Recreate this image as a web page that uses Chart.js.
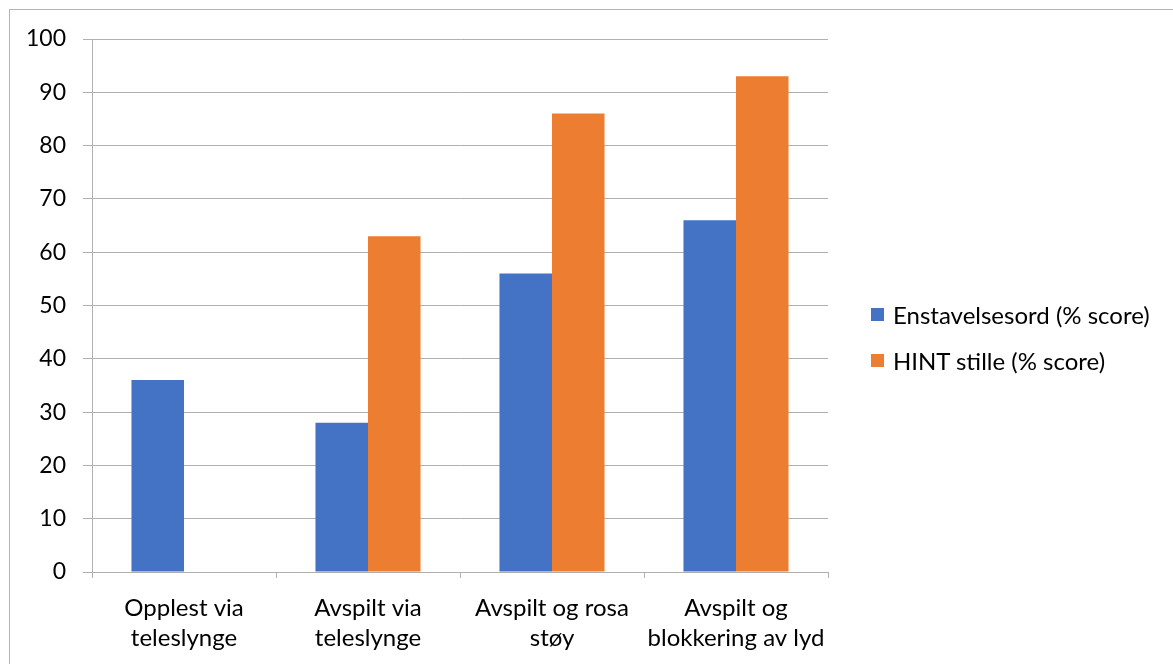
<!DOCTYPE html>
<html>
<head>
<meta charset="utf-8">
<script src="https://cdn.jsdelivr.net/npm/chart.js@4.4.1/dist/chart.umd.min.js"></script>
<style>
  html, body { margin: 0; padding: 0; background: #fff; }
  #wrap { position: relative; width: 1173px; height: 664px; overflow: hidden; }
  #frame { position: absolute; left: 9px; top: 9px; width: 1200px; height: 700px;
           border-left: 1px solid #b4b4b4; border-top: 1px solid #b4b4b4; }
  canvas { position: absolute; left: 0; top: 0; }
  #legend { position: absolute; left: 871px; top: 298px; font-family: Lato, "Open Sans", sans-serif;
            font-size: 24px; color: #000; }
  .item { display: flex; align-items: center; height: 32px; margin-bottom: 14px; white-space: nowrap; }
  .sw { width: 13px; height: 13px; margin-right: 9px; flex: none; }
</style>
</head>
<body>
<div id="wrap">
  <div id="frame"></div>
  <canvas id="c" width="1173" height="664"></canvas>
  <div id="legend"></div>
</div>
<script>
const categories = [
  ['Opplest via', 'teleslynge'],
  ['Avspilt via', 'teleslynge'],
  ['Avspilt og rosa', 'støy'],
  ['Avspilt og', 'blokkering av lyd']
];
const enstavelsesord = [36, 28, 56, 66];
const hintStille = [null, 63, 86, 93];
const seriesNames = ['Enstavelsesord (% score)', 'HINT stille (% score)'];
const seriesColors = ['#4472C4', '#ED7D31'];

const fontFamily = 'Lato, "Open Sans", sans-serif';
const gridColor = '#b0b0b0';

const chart = new Chart(document.getElementById('c'), {
  type: 'bar',
  data: {
    labels: categories,
    datasets: [
      { label: seriesNames[0], data: enstavelsesord, backgroundColor: seriesColors[0] },
      { label: seriesNames[1], data: hintStille, backgroundColor: seriesColors[1] }
    ]
  },
  options: {
    responsive: false,
    animation: false,
    categoryPercentage: 0.571,
    barPercentage: 1.0,
    layout: { padding: { left: 0, top: 39, right: 345, bottom: 0 } },
    plugins: { legend: { display: false }, tooltip: { enabled: false } },
    scales: {
      x: {
        grid: { drawOnChartArea: false, drawTicks: true, tickLength: 6, color: gridColor, offset: true },
        border: { display: true, color: gridColor },
        ticks: { color: '#000', padding: 15, maxRotation: 0, autoSkip: false,
                 font: { family: fontFamily, size: 24, lineHeight: 1.25 } },
        afterFit: (s) => { s.height = 92; }
      },
      y: {
        min: 0, max: 100,
        ticks: { stepSize: 10, color: '#000', padding: 17, font: { family: fontFamily, size: 23 } },
        grid: { color: gridColor, tickLength: 9, drawTicks: true },
        border: { display: true, color: gridColor },
        afterFit: (s) => { s.width = 92; }
      }
    }
  }
});

// legend entries beside the plot
const legend = document.getElementById('legend');
seriesNames.forEach((name, i) => {
  const row = document.createElement('div');
  row.className = 'item';
  const sw = document.createElement('span');
  sw.className = 'sw';
  sw.style.background = seriesColors[i];
  const txt = document.createElement('span');
  txt.textContent = name;
  row.appendChild(sw);
  row.appendChild(txt);
  legend.appendChild(row);
});
</script>
</body>
</html>
